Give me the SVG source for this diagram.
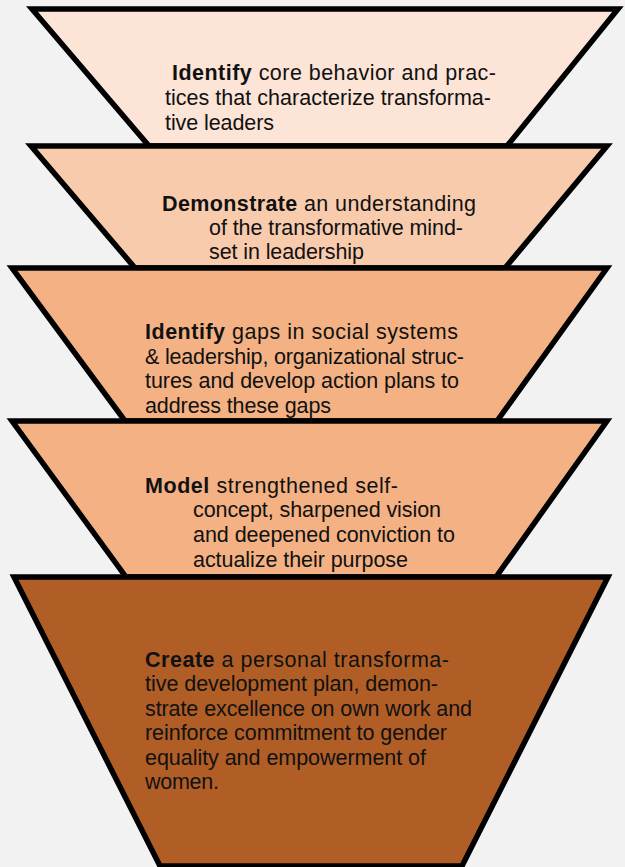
<svg xmlns="http://www.w3.org/2000/svg" width="625" height="867" viewBox="0 0 625 867">
<style>
.s{stroke:#000;stroke-width:5.5;stroke-linejoin:miter;stroke-miterlimit:10}
.t{font-family:"Liberation Sans",Arial,sans-serif;font-size:21.5px;fill:#111}
.b{font-weight:bold}
</style>
<rect width="625" height="867" fill="#F2F2F2"/>
<g id="level1">
<polygon class="s" fill="#FCE4D6" points="32,9 618,9 507,146 149,146"/>
<text class="t"><tspan x="172" y="80" textLength="324"><tspan class="b">Identify</tspan> core behavior and prac-</tspan><tspan x="165" y="105" textLength="326">tices that characterize transforma-</tspan><tspan x="165" y="130" textLength="109">tive leaders</tspan></text>
</g>
<g id="level2">
<polygon class="s" fill="#F8CBAD" points="31,146 607,146 505,268 135,268"/>
<text class="t"><tspan x="162" y="211" textLength="314"><tspan class="b">Demonstrate</tspan> an understanding</tspan><tspan x="209" y="235" textLength="254">of the transformative mind-</tspan><tspan x="209" y="259" textLength="155">set in leadership</tspan></text>
</g>
<g id="level3">
<polygon class="s" fill="#F4B183" points="12,268 607,268 497,421 125,421"/>
<text class="t"><tspan x="145" y="339" textLength="313"><tspan class="b">Identify</tspan> gaps in social systems</tspan><tspan x="145" y="364" textLength="319">&amp; leadership, organizational struc-</tspan><tspan x="145" y="388" textLength="314">tures and develop action plans to</tspan><tspan x="145" y="413" textLength="186">address these gaps</tspan></text>
</g>
<g id="level4">
<polygon class="s" fill="#F4B183" points="12,421 607,421 496,577 126,577"/>
<text class="t"><tspan x="145" y="493" textLength="253"><tspan class="b">Model</tspan> strengthened self-</tspan><tspan x="193" y="517" textLength="248">concept, sharpened vision</tspan><tspan x="193" y="542" textLength="262">and deepened conviction to</tspan><tspan x="193" y="567" textLength="215">actualize their purpose</tspan></text>
</g>
<g id="level5">
<polygon class="s" fill="#B05E26" points="14,577 608,577 462,866 160,866"/>
<text class="t"><tspan x="145" y="667" textLength="304"><tspan class="b">Create</tspan> a personal transforma-</tspan><tspan x="145" y="691" textLength="293">tive development plan, demon-</tspan><tspan x="145" y="716" textLength="327">strate excellence on own work and</tspan><tspan x="145" y="740" textLength="302">reinforce commitment to gender</tspan><tspan x="145" y="765" textLength="281">equality and empowerment of</tspan><tspan x="145" y="789" textLength="74">women.</tspan></text>
</g>
<g id="connectors"/>
</svg>
